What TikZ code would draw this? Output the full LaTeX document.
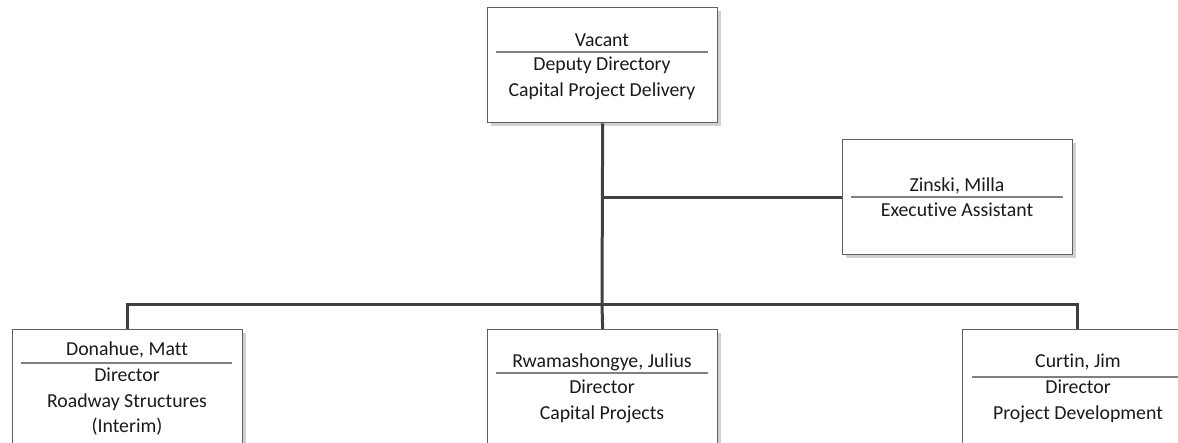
\documentclass[tikz,border=0pt]{standalone}
\usepackage{fontspec}
\setmainfont{Carlito}[Ligatures={NoCommon}]
\usetikzlibrary{shadows}
\definecolor{boxline}{HTML}{5F5F5F}
\definecolor{sepline}{HTML}{808080}
\definecolor{conline}{HTML}{404040}
\definecolor{txt}{HTML}{1A1A1A}
\tikzset{
  orgbox/.style={draw=boxline, line width=1.3pt, fill=white, rectangle,
    minimum width=230pt, minimum height=115pt, inner sep=0pt, anchor=north west,
    drop shadow={shadow xshift=3pt, shadow yshift=-3pt, fill=black!18, opacity=1}},
  tallbox/.style={orgbox, minimum height=140pt},
  lbl/.style={anchor=base, inner sep=0pt, text=txt, font=\fontsize{19.8}{26}\selectfont},
  sep/.style={draw=sepline, line width=1.3pt},
  con/.style={draw=conline, line width=3pt}
}
\begin{document}
\begin{tikzpicture}[x=1pt,y=-1pt]
\useasboundingbox (0,0) rectangle (1178,443);
\clip (0,0) rectangle (1178,443);
% boxes
\node[orgbox] (top) at (487,7) {};
\node[orgbox] (zin) at (842,139) {};
\node[tallbox] (don) at (12,329) {};
\node[tallbox] (rwa) at (487,329) {};
\node[tallbox] (cur) at (962,329) {};
% connectors
\coordinate (bus) at (602,305);
\draw[con] (top.south) -- (bus);
\draw[con] (top.south |- zin.west) -- (zin.west);
\draw[con] (don.north) -- (don.north |- bus) -- (cur.north |- bus) -- (cur.north);
\draw[con] (bus) -- (rwa.north);
% top box text
\node[lbl] (t1) at (602,47) {Vacant};
\draw[sep] (496,52) -- (708,52);
\node[lbl] (t2) at (602,71) {Deputy Directory};
\node[lbl] (t3) at (602,97) {Capital Project Delivery};
% Zinski
\node[lbl] (z1) at (957,192) {Zinski, Milla};
\draw[sep] (851,197) -- (1063,197);
\node[lbl] (z2) at (957,217) {Executive Assistant};
% Donahue
\node[lbl] (d1) at (127,356) {Donahue, Matt};
\draw[sep] (21,363) -- (232,363);
\node[lbl] (d2) at (127,382) {Director};
\node[lbl] (d3) at (127,407) {Roadway Structures};
\node[lbl] (d4) at (127,432) {(Interim)};
% Rwamashongye
\node[lbl] (r1) at (602,368) {Rwamashongye, Julius};
\draw[sep] (496,373) -- (708,373);
\node[lbl] (r2) at (602,394) {Director};
\node[lbl] (r3) at (602,420) {Capital Projects};
% Curtin
\node[lbl] (c1) at (1078,368) {Curtin, Jim};
\draw[sep] (972,377) -- (1183,377);
\node[lbl] (c2) at (1078,394) {Director};
\node[lbl] (c3) at (1078,419) {Project Development};
\end{tikzpicture}
\end{document}
